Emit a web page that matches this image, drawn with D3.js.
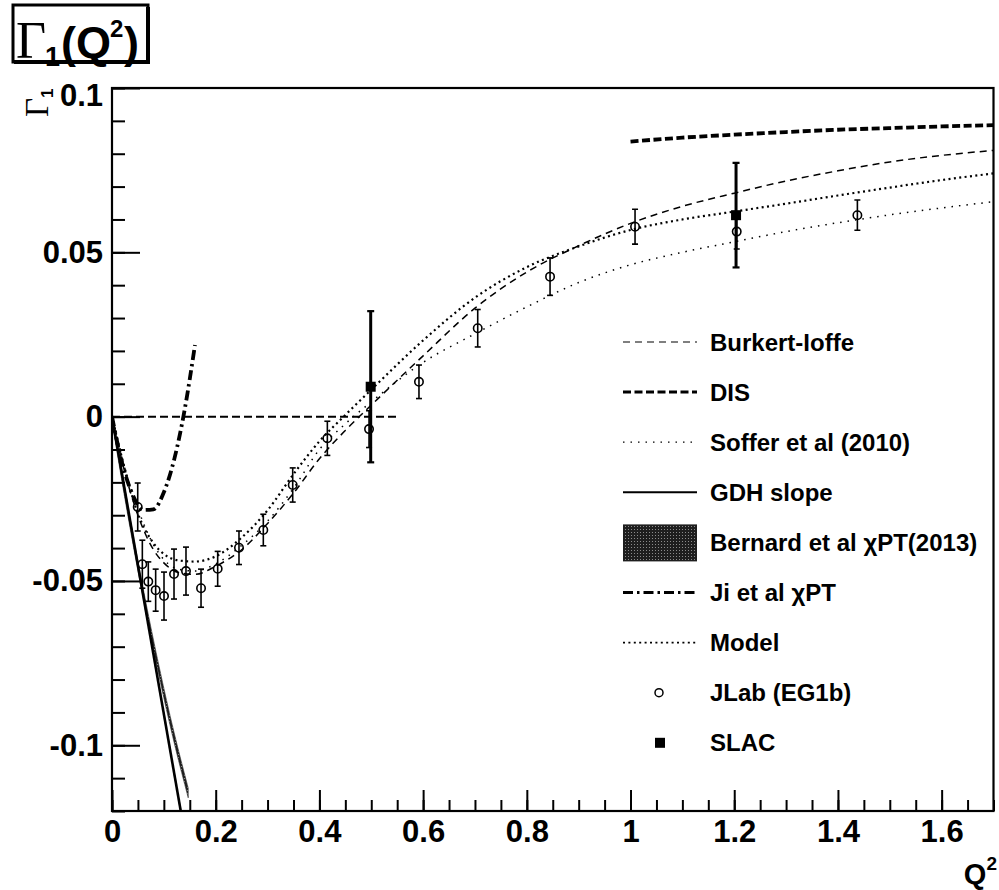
<!DOCTYPE html>
<html><head><meta charset="utf-8">
<script src="https://cdn.jsdelivr.net/npm/d3@7"></script>
<style>body{margin:0;background:#fff}svg{display:block}</style>
</head><body>
<svg id="chart" width="999" height="890"></svg>
<script>
// ---------------- data ----------------
const curveQ   = [0,0.02,0.05,0.08,0.1,0.13,0.16,0.2,0.25,0.3,0.35,0.4,0.45,0.5,0.6,0.7,0.8,0.9,1.0,1.1,1.2,1.3,1.4,1.5,1.6,1.7];
const burkert  = [0,-0.014,-0.030,-0.0405,-0.0445,-0.0475,-0.048,-0.0455,-0.0405,-0.0325,-0.0233,-0.0128,-0.0042,0.0035,0.0185,0.0330,0.0440,0.0520,0.0588,0.0640,0.0680,0.0717,0.0748,0.0775,0.0795,0.0810];
const soffer   = [0,-0.013,-0.028,-0.039,-0.0435,-0.0465,-0.047,-0.0448,-0.0392,-0.0318,-0.0218,-0.0100,-0.0022,0.0045,0.0165,0.0252,0.0334,0.0408,0.0462,0.0500,0.0532,0.0563,0.0590,0.0614,0.0635,0.0654];
const model    = [0,-0.013,-0.0295,-0.0385,-0.0418,-0.0438,-0.0441,-0.0425,-0.0368,-0.0285,-0.0175,-0.0075,0.0005,0.0082,0.0232,0.0362,0.0455,0.0518,0.0568,0.0600,0.0624,0.0648,0.0673,0.0697,0.0720,0.0740];
const disQ     = [1.0,1.1,1.2,1.3,1.4,1.5,1.6,1.7];
const disG     = [0.0837,0.0849,0.0858,0.0866,0.0873,0.0878,0.0883,0.0887];
const jiQ      = [0,0.02,0.04,0.06,0.08,0.1,0.12,0.14,0.16];
const jiG      = [0,-0.0144,-0.0238,-0.0284,-0.0282,-0.0230,-0.0130,0.0020,0.0218];
const gdhQ     = [0,0.1326];
const gdhG     = [0,-0.12];
const bernQ    = [0,0.03,0.06,0.09,0.12,0.147];
const bernLo   = [-0.0015,-0.0296,-0.0552,-0.0784,-0.0993,-0.1160];
const bernHi   = [0.0015,-0.0266,-0.0522,-0.0754,-0.0963,-0.1130];
const zeroQ    = [0,0.55];
const zeroG    = [0,0];
const jlabQ    = [0.0496,0.0585,0.070,0.0842,0.1003,0.1196,0.1427,0.1717,0.2038,0.2449,0.2918,0.3485,0.4153,0.4957,0.592,0.7053,0.8448,1.0087,1.2048,1.4375];
const jlabG    = [-0.0275,-0.0449,-0.0502,-0.0528,-0.0546,-0.0479,-0.047,-0.0522,-0.0463,-0.0399,-0.0345,-0.0208,-0.0066,-0.0038,0.0106,0.0269,0.0426,0.0578,0.0563,0.0613];
const jlabErr  = [0.0073,0.0073,0.006,0.0064,0.0073,0.0076,0.0073,0.0058,0.0053,0.0051,0.0048,0.0052,0.0052,0.0056,0.0051,0.0057,0.0057,0.0053,0.0053,0.0046];
const slacQ    = [0.4989,1.2035];
const slacG    = [0.0091,0.0613];
const slacErr  = [0.023,0.0159];
const xTicks      = [0,0.2,0.4,0.6,0.8,1,1.2,1.4,1.6];
const xTickLabels = ["0","0.2","0.4","0.6","0.8","1","1.2","1.4","1.6"];
const yTicks      = [-0.1,-0.05,0,0.05,0.1];
const yTickLabels = ["-0.1","-0.05","0","0.05","0.1"];
const legendLabels = ["Burkert-Ioffe","DIS","Soffer et al (2010)","GDH slope","Bernard et al \u03C7PT(2013)","Ji et al \u03C7PT","Model","JLab (EG1b)","SLAC"];

// ---------------- chart ----------------
const svg = d3.select("#chart");
const SANS = "'Liberation Sans', Arial, Helvetica, sans-serif";
const SERIF = "'Liberation Serif', 'Times New Roman', serif";
const L = 112, R = 993.5, T = 88, B = 811;
const x = d3.scaleLinear().domain([0,1.7]).range([L,R]);
const y = d3.scaleLinear().domain([-0.12,0.1]).range([B,T]);

svg.append("rect").attr("width",999).attr("height",890).attr("fill","#fff");

const defs = svg.append("defs");
const pat = defs.append("pattern").attr("id","stip").attr("width",3).attr("height",3).attr("patternUnits","userSpaceOnUse");
pat.append("rect").attr("width",3).attr("height",3).attr("fill","#1e1e1e");
pat.append("rect").attr("x",1).attr("y",1).attr("width",1).attr("height",1).attr("fill","#8a8a8a");
const clip = defs.append("clipPath").attr("id","plotclip");
clip.append("rect").attr("x",L).attr("y",T).attr("width",R-L).attr("height",B-T);

const plot = svg.append("g").attr("clip-path","url(#plotclip)");
const line = d3.line().curve(d3.curveMonotoneX);
const pts = (qs,gs)=>qs.map((q,i)=>[x(q),y(gs[i])]);

const area = d3.area().curve(d3.curveMonotoneX).x(d=>x(d.q)).y0(d=>y(d.lo)).y1(d=>y(d.hi));
plot.append("path").datum(bernQ.map((q,i)=>({q,lo:bernLo[i],hi:bernHi[i]})))
  .attr("d",area).attr("fill","url(#stip)").attr("stroke","#333").attr("stroke-width",0.6);

const styles = {
  burkert:{w:1.5,dash:"7,5"},
  dis:{w:3.8,dash:"8,3.5"},
  soffer:{w:1.5,dash:"1.5,6"},
  gdh:{w:2.6,dash:null},
  ji:{w:3.8,dash:"10,4,2.5,4"},
  model:{w:2.2,dash:"2,3.4"},
  zero:{w:2,dash:"8,4"}
};
function drawCurve(qs,gs,st){
  plot.append("path").attr("d",line(pts(qs,gs))).attr("fill","none").attr("stroke","#000")
    .attr("stroke-width",st.w).attr("stroke-dasharray",st.dash);
}
drawCurve(zeroQ,zeroG,styles.zero);
drawCurve(curveQ,burkert,styles.burkert);
drawCurve(curveQ,soffer,styles.soffer);
drawCurve(curveQ,model,styles.model);
drawCurve(disQ,disG,styles.dis);
drawCurve(gdhQ,gdhG,styles.gdh);
drawCurve(jiQ,jiG,styles.ji);

const jl = plot.append("g");
jlabQ.forEach((q,i)=>{
  const cx=x(q), y0=y(jlabG[i]-jlabErr[i]), y1=y(jlabG[i]+jlabErr[i]);
  jl.append("line").attr("x1",cx).attr("x2",cx).attr("y1",y0).attr("y2",y1).attr("stroke","#000").attr("stroke-width",1.6);
  [y0,y1].forEach(yy=>jl.append("line").attr("x1",cx-3).attr("x2",cx+3).attr("y1",yy).attr("y2",yy).attr("stroke","#000").attr("stroke-width",1.6));
  jl.append("circle").attr("cx",cx).attr("cy",y(jlabG[i])).attr("r",4.2).attr("fill","none").attr("stroke","#000").attr("stroke-width",1.6);
});
slacQ.forEach((q,i)=>{
  const cx=x(q), y0=y(slacG[i]-slacErr[i]), y1=y(slacG[i]+slacErr[i]);
  jl.append("line").attr("x1",cx).attr("x2",cx).attr("y1",y0).attr("y2",y1).attr("stroke","#000").attr("stroke-width",3);
  [y0,y1].forEach(yy=>jl.append("line").attr("x1",cx-3.5).attr("x2",cx+3.5).attr("y1",yy).attr("y2",yy).attr("stroke","#000").attr("stroke-width",2.2));
  jl.append("rect").attr("x",cx-5).attr("y",y(slacG[i])-5).attr("width",10).attr("height",10).attr("fill","#000");
});

const fmtX = d=>xTickLabels[xTicks.indexOf(d)];
const fmtY = d=>yTickLabels[yTicks.indexOf(d)];
const xMinor = d3.range(0,1.7001,0.05).map(v=>+v.toFixed(2));
const yMinor = d3.range(-0.12,0.1001,0.01).map(v=>+v.toFixed(2));

const gxm = svg.append("g").attr("transform",`translate(0,${B})`)
  .call(d3.axisBottom(x).tickValues(xMinor).tickSize(-11).tickFormat(""));
const gx = svg.append("g").attr("transform",`translate(0,${B})`)
  .call(d3.axisBottom(x).tickValues(xTicks).tickSizeInner(-21).tickSizeOuter(0).tickPadding(9).tickFormat(fmtX));
const gym = svg.append("g").attr("transform",`translate(${L},0)`)
  .call(d3.axisLeft(y).tickValues(yMinor).tickSize(-13).tickFormat(""));
const gy = svg.append("g").attr("transform",`translate(${L},0)`)
  .call(d3.axisLeft(y).tickValues(yTicks).tickSizeInner(-28).tickSizeOuter(0).tickPadding(9).tickFormat(fmtY));
[gxm,gx,gym,gy].forEach(g=>{
  g.select(".domain").remove();
  g.selectAll(".tick line").attr("stroke","#000").attr("stroke-width",2);
});
[gx,gy].forEach(g=>g.selectAll(".tick text").attr("font-family",SANS).attr("font-weight","bold").attr("font-size",31).attr("fill","#000"));
gy.selectAll(".tick text").filter(d=>d===0.1).attr("dy","0.55em");

svg.append("rect").attr("x",L).attr("y",T).attr("width",R-L).attr("height",B-T)
  .attr("fill","none").attr("stroke","#000").attr("stroke-width",2.2);

const yt = svg.append("text").attr("transform","translate(48,117) rotate(-90)").attr("fill","#000");
yt.append("tspan").attr("font-family",SERIF).attr("font-size",33).text("\u0393");
yt.append("tspan").attr("font-family",SANS).attr("font-weight","bold").attr("font-size",17).attr("dy",5).text("1");
const xt = svg.append("text").attr("x",997).attr("y",884).attr("text-anchor","end").attr("fill","#000")
  .attr("font-family",SANS).attr("font-weight","bold").attr("font-size",29);
xt.append("tspan").text("Q");
xt.append("tspan").attr("font-size",19).attr("dy",-14).text("2");

// title box
svg.append("rect").attr("x",13).attr("y",5).attr("width",135).attr("height",57).attr("fill","#fff").attr("stroke","#000").attr("stroke-width",3);
svg.append("line").attr("x1",148).attr("x2",148).attr("y1",7).attr("y2",63).attr("stroke","#000").attr("stroke-width",4);
svg.append("line").attr("x1",14).attr("x2",150).attr("y1",62).attr("y2",62).attr("stroke","#000").attr("stroke-width",4);
svg.append("text").attr("x",16).attr("y",58).attr("font-family",SERIF).attr("font-size",52).attr("fill","#000").text("\u0393");
svg.append("text").attr("x",45).attr("y",66).attr("font-family",SANS).attr("font-weight","bold").attr("font-size",27).attr("fill","#000").text("1");
svg.append("text").attr("x",61).attr("y",58).attr("font-family",SANS).attr("font-weight","bold").attr("font-size",45).attr("fill","#000").text("(Q");
svg.append("text").attr("x",110).attr("y",37).attr("font-family",SANS).attr("font-weight","bold").attr("font-size",24).attr("fill","#000").text("2");
svg.append("text").attr("x",124).attr("y",58).attr("font-family",SANS).attr("font-weight","bold").attr("font-size",45).attr("fill","#000").text(")");

// legend
const lg = svg.append("g");
const rowY = i=>342 + i*50.1;
const lx0 = 623, lx1 = 697, tx = 710;
const legendKinds = ["burkert","dis","soffer","gdh","band","ji","model","circle","square"];
legendKinds.forEach((k,i)=>{
  const yy = rowY(i);
  if (styles[k]) {
    lg.append("line").attr("x1",lx0).attr("x2",lx1).attr("y1",yy).attr("y2",yy).attr("stroke","#000")
      .attr("stroke-width",k==="gdh"?2:styles[k].w*0.8).attr("stroke-dasharray",styles[k].dash);
  } else if (k==="band") {
    lg.append("rect").attr("x",lx0).attr("y",yy-18).attr("width",lx1-lx0).attr("height",37).attr("fill","url(#stip)");
  } else if (k==="circle") {
    lg.append("circle").attr("cx",659).attr("cy",yy).attr("r",4).attr("fill","none").attr("stroke","#000").attr("stroke-width",1.5);
  } else {
    lg.append("rect").attr("x",655).attr("y",yy-5).attr("width",10).attr("height",10).attr("fill","#000");
  }
  lg.append("text").attr("x",tx).attr("y",yy).attr("dy","0.36em").attr("font-family",SANS).attr("font-weight","bold")
    .attr("font-size",24).attr("fill","#000").text(legendLabels[i]);
});
</script>
</body></html>
